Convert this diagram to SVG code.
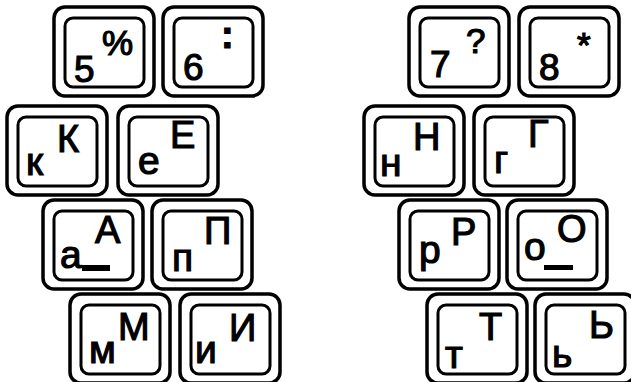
<svg xmlns="http://www.w3.org/2000/svg" xmlns:xlink="http://www.w3.org/1999/xlink" width="631" height="382" viewBox="0 0 631 382">
<style>
.o{fill:none;stroke:#000;stroke-width:3.5}
.i{fill:none;stroke:#000;stroke-width:3}
text{font-family:"Liberation Sans",Arial,sans-serif;fill:#000;stroke:#000;stroke-width:1.2}
.up{font-size:38px}
.sy{font-size:35px}
.lo{font-size:39px}
.dg{font-size:37px}
.cl{font-size:38px;font-weight:bold}
.bar{fill:#000}
</style>
<defs>
<g id="cap">
<rect class="o" x="0" y="0" width="100" height="89" rx="11"/>
<rect class="i" x="11" y="11" width="79" height="69" rx="8"/>
</g>
</defs>
<rect width="631" height="382" fill="#fff"/>
<g id="connectors"/>
<g id="k5" transform="translate(54,7)"><use href="#cap"/><text class="dg" x="20" y="75">5</text><text class="sy" x="48" y="48">%</text></g>
<g id="k6" transform="translate(163,7)"><use href="#cap"/><text class="dg" x="20" y="73">6</text><text class="cl" x="58" y="41">:</text></g>
<g id="kK" transform="translate(7,106)"><use href="#cap"/><text class="lo" x="19" y="69">к</text><text class="up" x="50" y="46">К</text></g>
<g id="kE" transform="translate(118,106)"><use href="#cap"/><text class="lo" x="20" y="68">е</text><text class="up" x="52" y="42">Е</text></g>
<g id="kA" transform="translate(43,200)"><use href="#cap"/><text class="lo" x="17" y="68">а</text><rect class="bar" x="39" y="65" width="28" height="6"/><text class="up" x="52" y="43">А</text></g>
<g id="kP" transform="translate(152,200)"><use href="#cap"/><text class="lo" x="20" y="71">п</text><text class="up" x="52" y="44">П</text></g>
<g id="kM" transform="translate(70,294)"><use href="#cap"/><text class="lo" x="19" y="69">м</text><text class="up" x="48" y="46">М</text></g>
<g id="kI" transform="translate(180,294)"><use href="#cap"/><text class="lo" x="15" y="69">и</text><text class="up" x="49" y="47">И</text></g>
<g id="k7" transform="translate(409,7)"><use href="#cap"/><text class="dg" x="21" y="70">7</text><text class="sy" x="57" y="46">?</text></g>
<g id="k8" transform="translate(519,7)"><use href="#cap"/><text class="dg" x="20" y="73">8</text><text class="sy" x="58" y="50">*</text></g>
<g id="kN" transform="translate(364,106)"><use href="#cap"/><text class="lo" x="16" y="70">н</text><text class="up" x="49" y="44">Н</text></g>
<g id="kG" transform="translate(474,106)"><use href="#cap"/><text class="lo" x="20" y="67">г</text><text class="up" x="54" y="41">Г</text></g>
<g id="kR" transform="translate(399,200)"><use href="#cap"/><text class="lo" x="20" y="63">р</text><text class="up" x="52" y="45">Р</text></g>
<g id="kO" transform="translate(507,200)"><use href="#cap"/><text class="lo" x="17" y="60">о</text><rect class="bar" x="37" y="65" width="29" height="5"/><text class="up" x="50" y="42">О</text></g>
<g id="kT" transform="translate(427,294)"><use href="#cap"/><text class="lo" x="18" y="74">т</text><text class="up" x="52" y="46">Т</text></g>
<g id="kSoft" transform="translate(535,294)"><use href="#cap"/><text class="lo" x="17" y="73">ь</text><text class="up" x="54" y="44">Ь</text></g>
</svg>
